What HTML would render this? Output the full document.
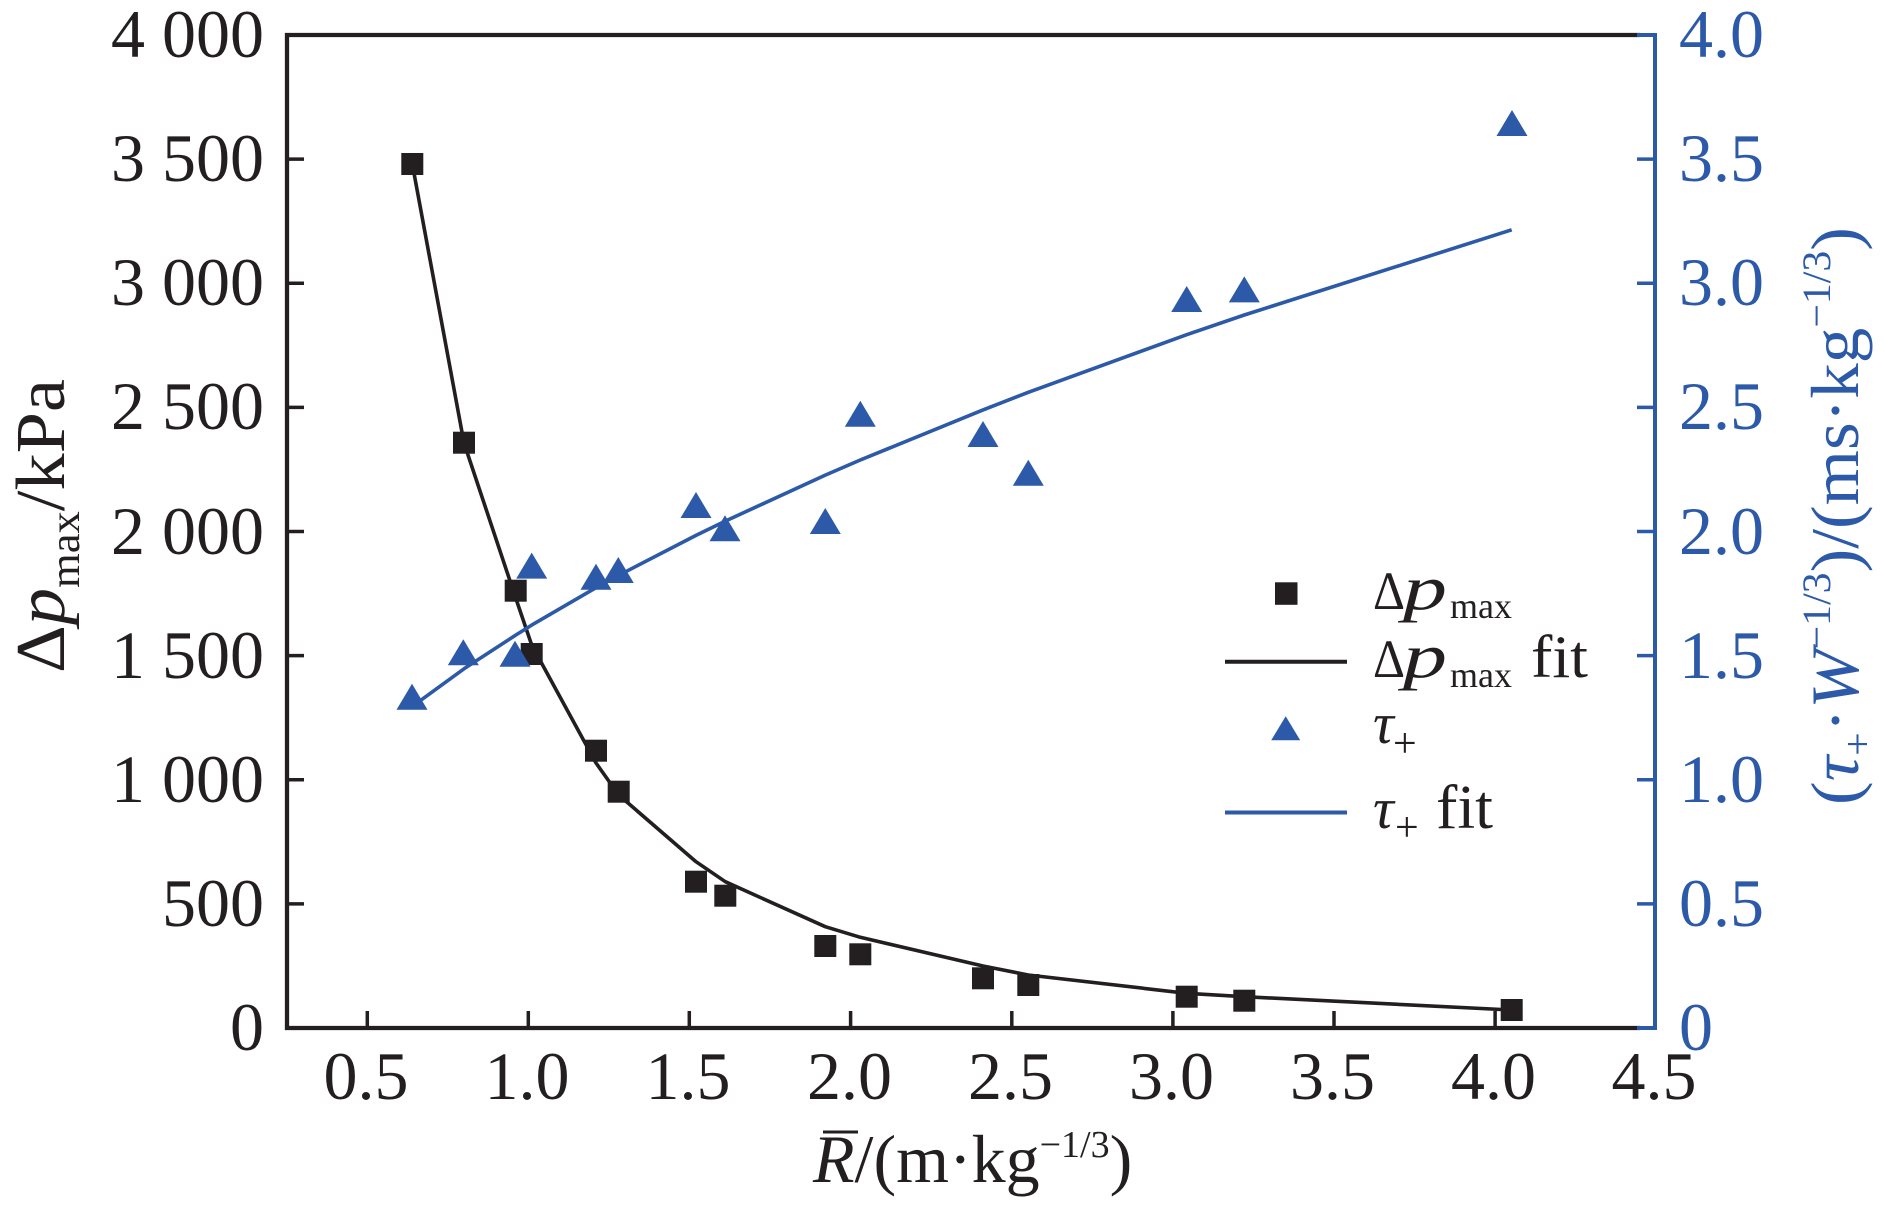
<!DOCTYPE html>
<html><head><meta charset="utf-8"><style>html,body{margin:0;padding:0;background:#fff}svg{display:block}</style></head>
<body>
<svg width="1890" height="1209" viewBox="0 0 1890 1209" xmlns="http://www.w3.org/2000/svg" font-family="'Liberation Serif','DejaVu Serif',serif">
<rect width="1890" height="1209" fill="#fff"/>
<!-- fit lines -->
<polyline fill="none" stroke="#231f20" stroke-width="3.6" stroke-linejoin="round" points="412.3,164 464,443 515.7,598 531.7,645 596,763 618.7,795 696,861.7 725.3,881.7 825.3,926.7 860.3,937.3 983,966 1028.3,975 1186.7,993.3 1244.3,996.7 1511.7,1010"/>
<polyline fill="none" stroke="#2c5aa8" stroke-width="3.6" stroke-linejoin="round" points="412.3,706.4 464,668.8 515.7,635.1 531.7,625.1 596,587.7 618.7,575.3 696,535.4 725.3,521.1 825.3,475.1 860.3,460 983,409.9 1028.3,392.3 1186.7,334.7 1244.3,315 1511.7,229.8"/>
<!-- squares -->
<g fill="#231f20">
<rect x="401.3" y="153" width="22" height="22"/>
<rect x="453" y="431.7" width="22" height="22"/>
<rect x="504.7" y="579.7" width="22" height="22"/>
<rect x="520.7" y="643" width="22" height="22"/>
<rect x="585" y="739.7" width="22" height="22"/>
<rect x="607.7" y="780.7" width="22" height="22"/>
<rect x="685" y="870.7" width="22" height="22"/>
<rect x="714.3" y="884.7" width="22" height="22"/>
<rect x="814.3" y="935" width="22" height="22"/>
<rect x="849.3" y="943.3" width="22" height="22"/>
<rect x="972" y="967.3" width="22" height="22"/>
<rect x="1017.3" y="974" width="22" height="22"/>
<rect x="1175.7" y="985.7" width="22" height="22"/>
<rect x="1233.3" y="989.7" width="22" height="22"/>
<rect x="1500.7" y="999" width="22" height="22"/>
</g>
<!-- triangles -->
<g fill="#2c5aa8">
<polygon points="412,683.7 427.5,709.7 396.5,709.7"/>
<polygon points="463.3,639.3 478.8,665.3 447.8,665.3"/>
<polygon points="515,640.7 530.5,666.7 499.5,666.7"/>
<polygon points="531.7,552.6 547.2,578.6 516.2,578.6"/>
<polygon points="596,563.7 611.5,589.7 580.5,589.7"/>
<polygon points="618.3,557 633.8,583 602.8,583"/>
<polygon points="696,492 711.5,518 680.5,518"/>
<polygon points="725,515.3 740.5,541.3 709.5,541.3"/>
<polygon points="825.3,508 840.8,534 809.8,534"/>
<polygon points="860.3,400.7 875.8,426.7 844.8,426.7"/>
<polygon points="983,421 998.5,447 967.5,447"/>
<polygon points="1028.3,459.8 1043.8,485.8 1012.8,485.8"/>
<polygon points="1186.7,286 1202.2,312 1171.2,312"/>
<polygon points="1244.3,276.4 1259.8,302.4 1228.8,302.4"/>
<polygon points="1512,110 1527.5,136 1496.5,136"/>
</g>
<!-- axes -->
<g stroke="#231f20" stroke-width="4.3" fill="none">
<line x1="287" y1="33" x2="287" y2="1030"/>
<line x1="285" y1="35" x2="1640" y2="35"/>
<line x1="285" y1="1028" x2="1640" y2="1028"/>
</g>
<g stroke="#231f20" stroke-width="3.5">
<line x1="287" y1="903.9" x2="304" y2="903.9"/>
<line x1="287" y1="779.75" x2="304" y2="779.75"/>
<line x1="287" y1="655.6" x2="304" y2="655.6"/>
<line x1="287" y1="531.5" x2="304" y2="531.5"/>
<line x1="287" y1="407.4" x2="304" y2="407.4"/>
<line x1="287" y1="283.25" x2="304" y2="283.25"/>
<line x1="287" y1="159.1" x2="304" y2="159.1"/>
<line x1="367.3" y1="1028" x2="367.3" y2="1011"/>
<line x1="528.3" y1="1028" x2="528.3" y2="1011"/>
<line x1="689.3" y1="1028" x2="689.3" y2="1011"/>
<line x1="850.6" y1="1028" x2="850.6" y2="1011"/>
<line x1="1011.8" y1="1028" x2="1011.8" y2="1011"/>
<line x1="1172.9" y1="1028" x2="1172.9" y2="1011"/>
<line x1="1334" y1="1028" x2="1334" y2="1011"/>
<line x1="1495.1" y1="1028" x2="1495.1" y2="1011"/>
</g>
<g stroke="#2c5aa8" stroke-width="4" fill="none">
<line x1="1655" y1="33" x2="1655" y2="1030"/>
<line x1="1637" y1="35" x2="1657" y2="35"/>
<line x1="1637" y1="1028" x2="1657" y2="1028"/>
</g>
<g stroke="#2c5aa8" stroke-width="3.5">
<line x1="1637" y1="903.9" x2="1655" y2="903.9"/>
<line x1="1637" y1="779.75" x2="1655" y2="779.75"/>
<line x1="1637" y1="655.6" x2="1655" y2="655.6"/>
<line x1="1637" y1="531.5" x2="1655" y2="531.5"/>
<line x1="1637" y1="407.4" x2="1655" y2="407.4"/>
<line x1="1637" y1="283.25" x2="1655" y2="283.25"/>
<line x1="1637" y1="159.1" x2="1655" y2="159.1"/>
</g>
<!-- left tick labels -->
<g font-size="68" fill="#231f20" text-anchor="end">
<text x="264" y="1050">0</text>
<text x="264" y="926">500</text>
<text x="264" y="802">1 000</text>
<text x="264" y="678">1 500</text>
<text x="264" y="554">2 000</text>
<text x="264" y="429">2 500</text>
<text x="264" y="305">3 000</text>
<text x="264" y="181">3 500</text>
<text x="264" y="57">4 000</text>
</g>
<!-- bottom tick labels -->
<g font-size="68" fill="#231f20" text-anchor="middle">
<text x="366" y="1099">0.5</text>
<text x="527" y="1099">1.0</text>
<text x="688" y="1099">1.5</text>
<text x="849.5" y="1099">2.0</text>
<text x="1010.5" y="1099">2.5</text>
<text x="1171.5" y="1099">3.0</text>
<text x="1332.5" y="1099">3.5</text>
<text x="1493.5" y="1099">4.0</text>
<text x="1654" y="1099">4.5</text>
</g>
<!-- right tick labels -->
<g font-size="68" fill="#2c5aa8">
<text x="1679" y="1050">0</text>
<text x="1679" y="926">0.5</text>
<text x="1679" y="802">1.0</text>
<text x="1679" y="678">1.5</text>
<text x="1679" y="554">2.0</text>
<text x="1679" y="429">2.5</text>
<text x="1679" y="305">3.0</text>
<text x="1679" y="181">3.5</text>
<text x="1679" y="57">4.0</text>
</g>
<!-- x title -->
<text x="813" y="1182" font-size="68" fill="#231f20"><tspan font-style="italic">R</tspan>/(m·kg<tspan font-size="38" dy="-25">−1/3</tspan><tspan dy="25">)</tspan></text>
<line x1="823" y1="1132" x2="858" y2="1132" stroke="#231f20" stroke-width="3"/>
<!-- left title -->
<text transform="translate(64,526) rotate(-90)" text-anchor="middle" font-size="70" fill="#231f20" textLength="294" lengthAdjust="spacingAndGlyphs">Δ<tspan font-style="italic">p</tspan><tspan font-size="42" dy="15">max</tspan><tspan dy="-15">/kPa</tspan></text>
<!-- right title -->
<text transform="translate(1858,516) rotate(-90)" text-anchor="middle" font-size="68" fill="#2c5aa8" textLength="578" lengthAdjust="spacingAndGlyphs">(<tspan font-style="italic">τ</tspan><tspan font-size="40" dy="13">+</tspan><tspan dy="-13">·</tspan><tspan font-style="italic">W</tspan><tspan font-size="40" dy="-28">−1/3</tspan><tspan dy="28">)/(ms·kg</tspan><tspan font-size="40" dy="-28">−1/3</tspan><tspan dy="28">)</tspan></text>
<!-- legend -->
<rect x="1275" y="582.3" width="22.5" height="22.5" fill="#231f20"/>
<line x1="1225" y1="661.7" x2="1347" y2="661.7" stroke="#231f20" stroke-width="4"/>
<polygon points="1285.7,716.3 1300.2,740.3 1271.2,740.3" fill="#2c5aa8"/>
<line x1="1225" y1="812.5" x2="1347" y2="812.5" stroke="#2c5aa8" stroke-width="4"/>
<g fill="#231f20">
<text x="1373" y="609" font-size="54" textLength="32" lengthAdjust="spacingAndGlyphs">Δ</text>
<text x="1403" y="609" font-size="62" font-style="italic" textLength="44" lengthAdjust="spacingAndGlyphs">p</text>
<text x="1450" y="618" font-size="36" textLength="62" lengthAdjust="spacingAndGlyphs">max</text>
<text x="1373" y="677" font-size="54" textLength="32" lengthAdjust="spacingAndGlyphs">Δ</text>
<text x="1403" y="677" font-size="62" font-style="italic" textLength="44" lengthAdjust="spacingAndGlyphs">p</text>
<text x="1450" y="687" font-size="36" textLength="62" lengthAdjust="spacingAndGlyphs">max</text>
<text x="1531" y="677" font-size="60" textLength="57" lengthAdjust="spacingAndGlyphs">fit</text>
<text x="1373" y="743" font-size="58" font-style="italic">τ</text>
<text x="1393" y="757" font-size="42">+</text>
<text x="1373" y="828" font-size="58" font-style="italic">τ</text>
<text x="1395" y="841" font-size="42">+</text>
<text x="1436" y="828" font-size="62" textLength="57" lengthAdjust="spacingAndGlyphs">fit</text>
</g>
</svg>
</body></html>
